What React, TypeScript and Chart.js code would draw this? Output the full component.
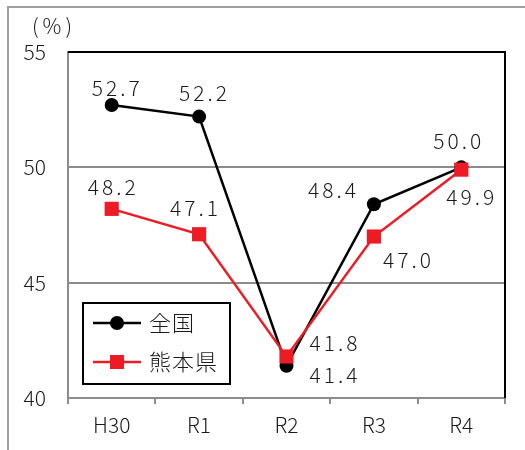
import React, { useEffect, useRef } from 'react';
import { Chart, registerables } from 'chart.js';

Chart.register(...registerables);

const categories = ['H30', 'R1', 'R2', 'R3', 'R4'];
const nationalValues = [52.7, 52.2, 41.4, 48.4, 50.0];
const kumamotoValues = [48.2, 47.1, 41.8, 47.0, 49.9];
const seriesNames = ['全国', '熊本県'];
const yMin = 40;
const yMax = 55;
const yStep = 5;
const unitLabel = '(%)';

// label offsets (px) relative to each point
const nationalLabelOffsets = [[4, -17], [4, -24], [47, 9], [-42, -14], [-4, -26]];
const kumamotoLabelOffsets = [[0, -22], [-5, -26], [47, -13], [33, 23], [9, 27]];

const SANS = '"Noto Sans CJK JP", "Noto Sans", sans-serif';
const BLACK = '#000000';
const RED = '#ED1C24';
const GRAY = '#8c8c8c';
const TEXT = '#1a1a1a';

const decorPlugin = {
  id: 'decor',
  beforeDraw(chart: any) {
    const { ctx, width, height } = chart;
    ctx.save();
    ctx.fillStyle = '#ffffff';
    ctx.fillRect(0, 0, width, height);
    ctx.strokeStyle = '#a0a0a0';
    ctx.lineWidth = 2;
    ctx.beginPath();
    ctx.moveTo(8, height);
    ctx.lineTo(8, 7);
    ctx.lineTo(width, 7);
    ctx.stroke();
    ctx.restore();
  },
  beforeDatasetsDraw(chart: any) {
    const { ctx, chartArea } = chart;
    ctx.save();
    ctx.strokeStyle = BLACK;
    ctx.lineWidth = 2;
    ctx.beginPath();
    ctx.moveTo(chartArea.left, chartArea.top);
    ctx.lineTo(chartArea.right, chartArea.top);
    ctx.lineTo(chartArea.right, chartArea.bottom);
    ctx.stroke();
    ctx.fillStyle = TEXT;
    ctx.font = `300 21px ${SANS}`;
    (ctx as any).letterSpacing = '4px';
    ctx.textAlign = 'center';
    ctx.textBaseline = 'middle';
    ctx.fillText(unitLabel, 54, 26);
    ctx.restore();
  },
  afterDatasetsDraw(chart: any) {
    const { ctx } = chart;
    const offsets = [nationalLabelOffsets, kumamotoLabelOffsets];
    ctx.save();
    ctx.font = `300 21px ${SANS}`;
    (ctx as any).letterSpacing = '3px';
    ctx.fillStyle = TEXT;
    ctx.textAlign = 'center';
    ctx.textBaseline = 'middle';
    chart.data.datasets.forEach((ds: any, di: number) => {
      const meta = chart.getDatasetMeta(di);
      meta.data.forEach((pt: any, i: number) => {
        const v = ds.data[i] as number;
        const [dx, dy] = offsets[di][i];
        ctx.fillText(v.toFixed(1), pt.x + dx + 1.5, pt.y + dy);
      });
    });

    // legend
    const lx = 83, ly = 303, lw = 147, lh = 81;
    ctx.fillStyle = '#ffffff';
    ctx.fillRect(lx, ly, lw, lh);
    ctx.strokeStyle = BLACK;
    ctx.lineWidth = 2;
    ctx.strokeRect(lx, ly, lw, lh);
    const rows = [
      { name: seriesNames[0], color: BLACK, y: 323, shape: 'circle' },
      { name: seriesNames[1], color: RED, y: 362, shape: 'rect' },
    ];
    rows.forEach((r) => {
      ctx.strokeStyle = r.color;
      ctx.lineWidth = 2.5;
      ctx.beginPath();
      ctx.moveTo(93, r.y);
      ctx.lineTo(141, r.y);
      ctx.stroke();
      ctx.fillStyle = r.color;
      if (r.shape === 'circle') {
        ctx.beginPath();
        ctx.arc(117, r.y, 7, 0, Math.PI * 2);
        ctx.fill();
      } else {
        ctx.fillRect(110, r.y - 7, 14, 14);
      }
      ctx.fillStyle = TEXT;
      ctx.textAlign = 'left';
      ctx.font = `300 22px ${SANS}`;
      (ctx as any).letterSpacing = '1px';
      ctx.fillText(r.name, 149, r.y);
    });
    ctx.restore();
  },
};

export default function App() {
  const ref = useRef<HTMLCanvasElement>(null);
  useEffect(() => {
    const canvas = ref.current;
    if (!canvas) return;
    const chart = new Chart(canvas, {
      type: 'line',
      data: {
        labels: categories,
        datasets: [
          {
            label: seriesNames[0],
            data: nationalValues,
            borderColor: BLACK,
            backgroundColor: BLACK,
            borderWidth: 2.5,
            pointStyle: 'circle',
            pointRadius: 7,
            pointBorderWidth: 0,
            tension: 0,
            order: 1,
          },
          {
            label: seriesNames[1],
            data: kumamotoValues,
            borderColor: RED,
            backgroundColor: RED,
            borderWidth: 2.5,
            pointStyle: 'rect',
            pointRadius: 10,
            pointBorderWidth: 0,
            tension: 0,
            order: 0,
          },
        ],
      },
      options: {
        responsive: false,
        animation: false,
        layout: { padding: { top: 52, right: 20, left: 0, bottom: 0 } },
        plugins: { legend: { display: false }, tooltip: { enabled: false } },
        scales: {
          x: {
            offset: true,
            grid: {
              offset: true,
              drawOnChartArea: false,
              drawTicks: true,
              tickLength: 6,
              color: GRAY,
              lineWidth: 2,
            },
            border: { display: true, color: GRAY, width: 2 },
            ticks: { color: TEXT, font: { family: SANS, size: 21, weight: '300' }, padding: 8 },
            afterFit: (s: any) => { s.height = 52; },
          },
          y: {
            min: yMin,
            max: yMax,
            grid: {
              drawTicks: false,
              color: (c: any) => (c.tick && c.tick.value === yMax ? BLACK : GRAY),
              lineWidth: 2,
            },
            border: { display: true, color: GRAY, width: 2 },
            ticks: { stepSize: yStep, color: TEXT, font: { family: SANS, size: 21, weight: '300' }, padding: 22 },
            afterFit: (s: any) => { s.width = 68; },
          },
        },
      },
      plugins: [decorPlugin],
    } as any);
    return () => chart.destroy();
  }, []);
  return (
    <div style={{ position: 'fixed', left: 0, top: 0, width: 525, height: 450 }}>
      <canvas ref={ref} width={525} height={450} />
    </div>
  );
}
